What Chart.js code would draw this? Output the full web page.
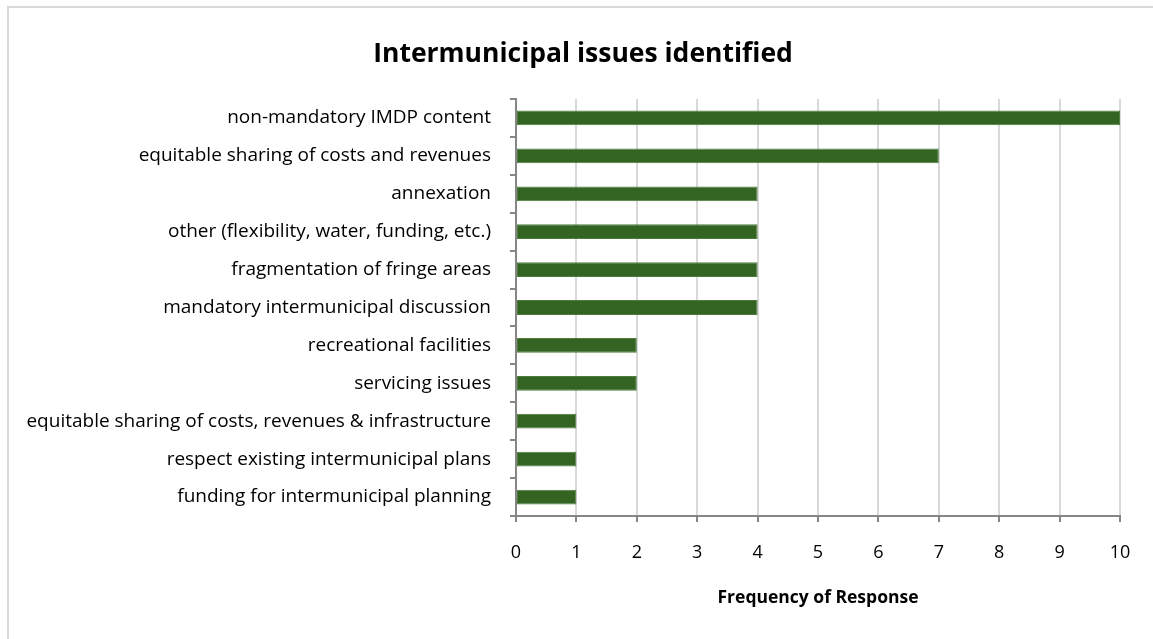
<!DOCTYPE html>
<html>
<head>
<meta charset="utf-8">
<script src="https://cdn.jsdelivr.net/npm/chart.js@4"></script>
<style>
  html, body { margin: 0; padding: 0; background: #fff; overflow: hidden; }
  #frame {
    position: absolute; left: 7px; top: 6px; width: 1200px; height: 700px;
    border-left: 2px solid #d9d9d9; border-top: 2px solid #d9d9d9;
  }
  #wrap { position: absolute; left: 0; top: 0; width: 1153px; height: 639px; }
</style>
</head>
<body>
<div id="frame"></div>
<div id="wrap"><canvas id="chart" width="1153" height="639"></canvas></div>
<script>
// Issues raised, listed top to bottom
const issues = [
  'non-mandatory IMDP content',
  'equitable sharing of costs and revenues',
  'annexation',
  'other (flexibility, water, funding, etc.)',
  'fragmentation of fringe areas',
  'mandatory intermunicipal discussion',
  'recreational facilities',
  'servicing issues',
  'equitable sharing of costs, revenues & infrastructure',
  'respect existing intermunicipal plans',
  'funding for intermunicipal planning'
];
const responses = [10, 7, 4, 4, 4, 4, 2, 2, 1, 1, 1];
const xTicks = [0, 1, 2, 3, 4, 5, 6, 7, 8, 9, 10];

const FONT = '"Open Sans", Lato, sans-serif';
const axisGray = '#868686';

// left padding keeps the title centred on the framed area; y axis width fills the rest up to x=516
const padLeft = 46;

// let the long category labels run into the left padding instead of being clipped
const widenLabelArea = {
  id: 'widenLabelArea',
  afterLayout(chart) {
    chart.scales.y.left = 0;
  }
};

const ctx = document.getElementById('chart').getContext('2d');
new Chart(ctx, {
  type: 'bar',
  data: {
    labels: issues,
    datasets: [{
      label: 'Frequency of Response',
      data: responses,
      backgroundColor: '#336422',
      borderColor: '#4e7c3e',
      borderWidth: 1,
      borderSkipped: false,
      barPercentage: 1,
      categoryPercentage: 0.39
    }]
  },
  plugins: [widenLabelArea],
  options: {
    indexAxis: 'y',
    responsive: false,
    animation: false,
    layout: { padding: { left: padLeft, right: 33, top: 0, bottom: 0 } },
    plugins: {
      legend: { display: false },
      tooltip: { enabled: false },
      title: {
        display: true,
        text: 'Intermunicipal issues identified',
        color: '#000',
        font: { family: FONT, size: 26.5, weight: 'bold', lineHeight: 1.2 },
        padding: { top: 39, bottom: 28.2 }
      }
    },
    scales: {
      x: {
        min: 0,
        max: 10,
        afterBuildTicks: s => { s.ticks = xTicks.map(v => ({ value: v })); },
        afterFit: s => { s.height = 123; },
        border: { color: axisGray, width: 2 },
        grid: { color: '#d9d9d9', lineWidth: 2, tickColor: axisGray, tickLength: 6 },
        ticks: { color: '#000', padding: 20, font: { family: FONT, size: 18 } },
        title: {
          display: true,
          text: 'Frequency of Response',
          color: '#000',
          font: { family: FONT, size: 17.5, weight: 'bold' },
          padding: { top: 24, bottom: 30 }
        }
      },
      y: {
        afterFit: s => { s.width = 516 - padLeft; },
        border: { color: axisGray, width: 2 },
        grid: { drawOnChartArea: false, tickColor: axisGray, tickLength: 6, lineWidth: 2 },
        ticks: { color: '#000', padding: 19, font: { family: FONT, size: 19 } }
      }
    }
  }
});
</script>
</body>
</html>
